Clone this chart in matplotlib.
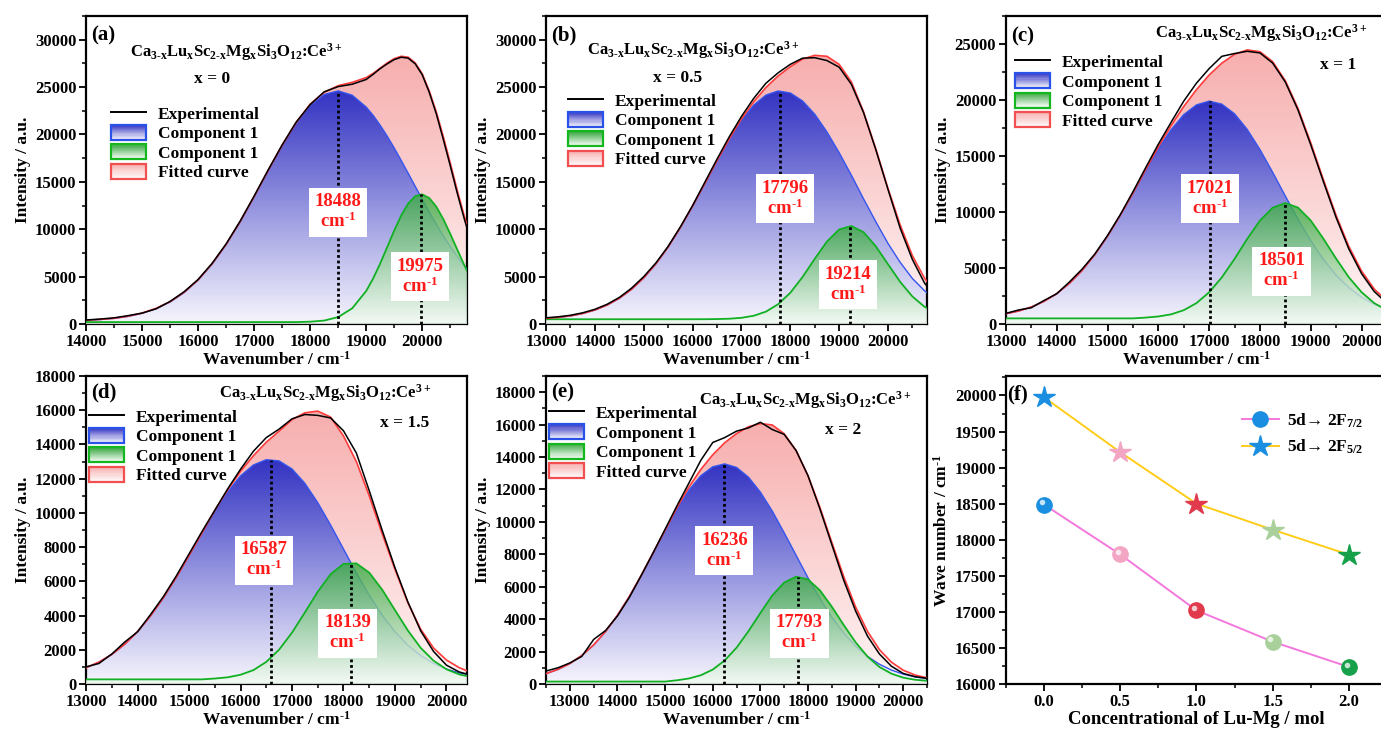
import numpy as np
import matplotlib
matplotlib.use("Agg")
import matplotlib.pyplot as plt
from matplotlib.patches import Rectangle, Patch
from matplotlib.legend_handler import HandlerBase
from matplotlib.lines import Line2D
from matplotlib.ticker import MultipleLocator, FormatStrFormatter
from matplotlib.colors import to_rgb
from matplotlib.transforms import offset_copy

plt.rcParams.update({
    "font.family": ["Liberation Serif", "DejaVu Serif"],
    "font.weight": "bold",
    "axes.labelweight": "bold",
    "mathtext.fontset": "custom",
    "mathtext.rm": "Liberation Serif:bold",
    "mathtext.it": "Liberation Serif:italic:bold",
    "mathtext.bf": "Liberation Serif:bold",
    "mathtext.default": "rm",
    "axes.linewidth": 1.6,
})

# ---------------- data ----------------
conc = [0.0, 0.5, 1.0, 1.5, 2.0]
f72 = [18488, 17796, 17021, 16587, 16236]   # 5d -> 2F7/2
f52 = [19975, 19214, 18501, 18139, 17793]   # 5d -> 2F5/2
x_labels = ["x = 0", "x = 0.5", "x = 1", "x = 1.5", "x = 2"]

# panel (a): 250 step up to 18750, 125 step above
wn_a = list(range(14000, 19000, 250)) + list(range(19000, 21001, 125))
exp_a = [420, 520, 650, 880, 1150, 1600, 2380, 3400, 4700, 6400, 8450, 10850, 13500, 16250,
         18900, 21300, 23150, 24500, 25050, 25300,
         25800, 26350, 26950, 27450, 27900, 28150, 28050, 27450, 26300, 24450, 22200, 19500,
         16700, 13800, 11100, 8600, 6500]
comp1_a = [390, 465, 590, 800, 1120, 1615, 2320, 3310, 4630, 6320, 8385, 10780, 13420, 16160,
           18810, 21180, 23040, 24220, 24600, 24140,
           22890, 22010, 20970, 19820, 18570, 17250, 15900, 14520, 13160, 11810, 10530, 9320,
           8170, 7110, 6140, 5270, 4500]
comp2_a = [200] * 16 + [240, 360, 730, 1650,
                        3480, 4810, 6380, 8110, 9850, 11450, 12710, 13490, 13680, 13290, 12390,
                        11080, 9510, 7850, 6220, 4740, 3490]
fit_a = [400, 480, 600, 820, 1150, 1650, 2350, 3350, 4650, 6350, 8400, 10800, 13450, 16200,
         18850, 21250, 23200, 24450, 25150, 25500,
         26000, 26450, 27000, 27550, 28000, 28250, 28150, 27550, 26400, 24600, 22400, 19800,
         17000, 14100, 11400, 8900, 6800]

wn_b = list(range(13000, 21001, 250))
exp_b = [650, 760, 920, 1180, 1550, 2080, 2800, 3780, 5000, 6450, 8200, 10250, 12500, 14950,
         17400, 19750, 21900, 23800, 25400, 26500, 27400, 28050, 28100, 27800, 27100, 25300,
         22300, 18400, 14200, 10100, 6800, 4300, 2700]
comp1_b = [570, 680, 850, 1100, 1470, 1990, 2710, 3650, 4860, 6350, 8130, 10180, 12440, 14820,
           17220, 19490, 21490, 23090, 24150, 24590, 24380, 23540, 22140, 20270, 18080, 15710,
           13200, 10800, 8500, 6500, 4800, 3500, 2500]
comp2_b = [500] * 13 + [505, 520, 555, 650, 865, 1300, 2080, 3290, 4950, 6870, 8700, 9970, 10340,
                        9690, 8200, 6310, 4440, 2900, 1810, 1150]
fit_b = [600, 700, 860, 1110, 1480, 2000, 2720, 3660, 4870, 6360, 8130, 10180, 12440, 14830,
         17240, 19540, 21640, 23450, 24950, 26170, 27150, 27950, 28350, 28250, 27400, 25550,
         22390, 18500, 14310, 10440, 7200, 4810, 3150]

wn_c = list(range(13000, 21001, 250))
exp_c = [950, 1250, 1450, 2100, 2700, 3750, 4900, 6250, 7900, 9750, 11800, 13950, 16050, 18000,
         19900, 21500, 22800, 23900, 24150, 24350, 24200, 23300, 21600, 19100, 16000, 12700,
         9500, 6700, 4500, 2900, 1850, 1250, 900]
comp1_c = [915, 1160, 1520, 2020, 2710, 3630, 4780, 6190, 7840, 9700, 11690, 13720, 15640, 17340,
           18690, 19560, 19900, 19630, 18770, 17370, 15580, 13550, 11420, 9350, 7440, 5770,
           4360, 3250, 2390, 1760, 1310, 1000, 800]
comp2_c = [500] * 11 + [570, 670, 860, 1230, 1860, 2830, 4160, 5810, 7600, 9230, 10380, 10800,
                        10390, 9240, 7610, 5830, 4170, 2840, 1860, 1230, 860, 670]
fit_c = [915, 1160, 1520, 2020, 2710, 3630, 4780, 6190, 7840, 9700, 11690, 13790, 15810, 17700,
         19420, 20920, 22230, 23290, 24080, 24470, 24310, 23430, 21720, 19240, 16180, 12880,
         9690, 6920, 4730, 3120, 2040, 1360, 970]

wn_d = list(range(13000, 20501, 250))
exp_d = [1000, 1200, 1750, 2450, 3050, 4050, 5100, 6300, 7600, 8900, 10150, 11400, 12550, 13600,
         14400, 14900, 15500, 15750, 15700, 15550, 14800, 13500, 11300, 9000, 6800, 4800, 3100,
         1900, 1100, 700, 500]
comp1_d = [950, 1280, 1730, 2320, 3060, 3970, 5030, 6220, 7510, 8820, 10090, 11220, 12160, 12800,
           13110, 13040, 12570, 11730, 10600, 9290, 7890, 6490, 5190, 4030, 3060, 2270, 1660,
           1200, 870, 650, 500]
comp2_d = [270] * 10 + [320, 390, 540, 810, 1290, 2010, 3000, 4180, 5390, 6420, 7020, 7050, 6510,
                        5520, 4320, 3130, 2110, 1360, 860, 560, 400]
fit_d = [950, 1280, 1730, 2320, 3060, 3970, 5030, 6220, 7510, 8820, 10140, 11340, 12430, 13340,
         14130, 14780, 15450, 15850, 15950, 15600, 14500, 13000, 11000, 8800, 6700, 4750, 3200,
         2100, 1400, 950, 650]

wn_e = list(range(12500, 20501, 250))
exp_e = [800, 1000, 1300, 1700, 2750, 3300, 4200, 5350, 6700, 8100, 9550, 11000, 12400, 13800,
         14900, 15200, 15600, 15800, 16150, 15700, 15400, 14400, 12850, 10800, 8600, 6400, 4500,
         2950, 1850, 1100, 650, 450, 350]
comp1_e = [640, 900, 1260, 1760, 2410, 3240, 4240, 5400, 6710, 8100, 9490, 10810, 11960, 12850,
           13400, 13580, 13360, 12760, 11840, 10670, 9330, 7940, 6550, 5270, 4120, 3140, 2330,
           1700, 1220, 860, 610, 440, 330]
comp2_e = [150] * 11 + [230, 340, 540, 890, 1450, 2240, 3260, 4380, 5460, 6260, 6620, 6450, 5780,
                        4770, 3640, 2570, 1690, 1050, 640, 390, 260, 200]
fit_e = [640, 900, 1260, 1760, 2410, 3240, 4240, 5400, 6710, 8100, 9490, 10890, 12150, 13240,
         14140, 14880, 15450, 15870, 16070, 15980, 15440, 14410, 12850, 10900, 8740, 6630, 4750,
         3240, 2120, 1350, 850, 550, 380]

point_colors = ["#1a8ee0", "#f2a6c4", "#e03a4c", "#a9d09a", "#17a04a"]

# ---------------- styles / layout ----------------
BLUE_TOP, BLUE_BOT = "#3232c2", "#f7f6fd"
GREEN_TOP, GREEN_BOT = "#3caa44", "#f4fbf4"
PINK_TOP, PINK_BOT = "#f7aeae", "#fff6f6"
HY = "\u2010"   # short hyphen used in sub/superscripts

W, H = 0.2759, 0.4213
ROW_TOP, ROW_BOT = 0.5568, 0.0643
COLS = [0.0623, 0.3954, 0.7284]


class GradHandler(HandlerBase):
    def __init__(self, top, bottom, edge):
        super().__init__()
        self.top = np.array(to_rgb(top))
        self.bottom = np.array(to_rgb(bottom))
        self.edge = edge

    def create_artists(self, legend, orig_handle, xdescent, ydescent, width, height,
                       fontsize, trans):
        arts = []
        n = 14
        for i in range(n):
            f = (i + 0.5) / n
            c = self.bottom + (self.top - self.bottom) * f
            arts.append(Rectangle((-xdescent, -ydescent + height * i / n), width, height / n + 0.3,
                                  facecolor=c, edgecolor="none", transform=trans))
        arts.append(Rectangle((-xdescent, -ydescent), width, height, facecolor="none",
                              edgecolor=self.edge, lw=1.6, transform=trans))
        return arts


def gradient_fill(ax, x, y, top, bottom, z, alpha=1.0):
    poly = ax.fill_between(x, 0, y, facecolor="none", edgecolor="none")
    t = np.array(to_rgb(top))
    b = np.array(to_rgb(bottom))
    f = np.linspace(0, 1, 256)[:, None]
    rgb = b + (t - b) * f
    img = np.concatenate([rgb, np.full((256, 1), alpha)], axis=1)[:, None, :]
    im = ax.imshow(img, extent=[x[0], x[-1], 0, max(y)], origin="lower", aspect="auto",
                   zorder=z, interpolation="bilinear")
    im.set_clip_path(poly.get_paths()[0], transform=ax.transData)


def style_axis(ax, xmaj, xmin, ymaj, ymin):
    ax.xaxis.set_major_locator(MultipleLocator(xmaj))
    ax.xaxis.set_minor_locator(MultipleLocator(xmin))
    ax.yaxis.set_major_locator(MultipleLocator(ymaj))
    ax.yaxis.set_minor_locator(MultipleLocator(ymin))
    ax.tick_params(which="both", direction="out", top=False, right=False, labelsize=12, pad=2)
    ax.tick_params(which="major", length=5, width=1.3)
    ax.tick_params(which="minor", length=3, width=1.1)


fig = plt.figure(figsize=(13.81, 7.31), dpi=100)

spectra = [
    dict(pos=(COLS[0], ROW_TOP), wn=wn_a, exp=exp_a, c1=comp1_a, c2=comp2_a, fit=fit_a,
         xlim=(14000, 20800), ylim=(0, 32500), ymaj=5000, ymin=2500, tag="(a)", tagy=0.938,
         form=(0.394, 0.883), xl=(0.331, 0.795), leg=(0.066, 0.71),
         lab1=(18495, 11800), lab2=(19960, 5000)),
    dict(pos=(COLS[1], ROW_TOP), wn=wn_b, exp=exp_b, c1=comp1_b, c2=comp2_b, fit=fit_b,
         xlim=(13000, 20800), ylim=(0, 32500), ymaj=5000, ymin=2500, tag="(b)", tagy=0.938,
         form=(0.386, 0.89), xl=(0.344, 0.80), leg=(0.058, 0.752),
         lab1=(17890, 13200), lab2=(19175, 4150)),
    dict(pos=(COLS[2], ROW_TOP), wn=wn_c, exp=exp_c, c1=comp1_c, c2=comp2_c, fit=fit_c,
         xlim=(13000, 20500), ylim=(0, 27500), ymaj=5000, ymin=2500, tag="(c)", tagy=0.935,
         form=(0.67, 0.945), xl=(0.871, 0.84), leg=(0.024, 0.878),
         lab1=(17022, 11200), lab2=(18425, 4700)),
    dict(pos=(COLS[0], ROW_BOT), wn=wn_d, exp=exp_d, c1=comp1_d, c2=comp2_d, fit=fit_d,
         xlim=(13000, 20400), ylim=(0, 18000), ymaj=2000, ymin=1000, tag="(d)", tagy=0.945,
         form=(0.627, 0.945), xl=(0.837, 0.847), leg=(0.008, 0.895),
         lab1=(16461, 7230), lab2=(18078, 2960)),
    dict(pos=(COLS[1], ROW_BOT), wn=wn_e, exp=exp_e, c1=comp1_e, c2=comp2_e, fit=fit_e,
         xlim=(12500, 20500), ylim=(0, 19000), ymaj=2000, ymin=1000, tag="(e)", tagy=0.945,
         form=(0.68, 0.922), xl=(0.78, 0.825), leg=(0.008, 0.907),
         lab1=(16245, 8230), lab2=(17820, 3130)),
]

formula = ("Ca$_{3" + HY + "x}$Lu$_x$Sc$_{2" + HY + "x}$Mg$_x$Si$_3$O$_{12}$:Ce$^{3+}$")
cm1 = "cm$^{" + HY + "1}$"

for i, p in enumerate(spectra):
    ax = fig.add_axes([p["pos"][0], p["pos"][1], W, H])
    wn = p["wn"]
    gradient_fill(ax, wn, p["fit"], PINK_TOP, PINK_BOT, z=1)
    gradient_fill(ax, wn, p["c1"], BLUE_TOP, BLUE_BOT, z=2)
    ax.plot(wn, p["c1"], color="#3556ee", lw=1.0, zorder=3)
    gradient_fill(ax, wn, p["c2"], GREEN_TOP, GREEN_BOT, z=4, alpha=0.82)
    ax.plot(wn, p["c2"], color="#12b024", lw=1.3, zorder=5)
    ax.plot(wn, p["fit"], color="#ff3b3b", lw=1.2, zorder=6)
    ax.plot(wn, p["exp"], color="black", lw=1.1, zorder=7)

    ax.vlines(f72[i], 0, max(p["c1"]), colors="black", linestyles=(0, (1, 1)), lw=2, zorder=8)
    ax.vlines(f52[i], 0, max(p["c2"]), colors="black", linestyles=(0, (1, 1)), lw=2, zorder=8)
    for val, xy in ((f72[i], p["lab1"]), (f52[i], p["lab2"])):
        ax.text(xy[0], xy[1], f"{val}\n" + cm1, color="#ff1a1a", fontsize=13.5,
                ha="center", va="center", zorder=9, linespacing=1.1,
                bbox=dict(boxstyle="square,pad=0.3", facecolor="white", edgecolor="none"))

    ax.set_xlim(*p["xlim"])
    ax.set_ylim(*p["ylim"])
    style_axis(ax, 1000, 500, p["ymaj"], p["ymin"])
    ax.set_xlabel("Wavenumber / " + cm1, fontsize=12.5, labelpad=1)
    ax.set_ylabel("Intensity / a.u.", fontsize=12.5, labelpad=3)

    ax.text(0.014, p["tagy"], p["tag"], transform=ax.transAxes, fontsize=15,
            ha="left", va="center", zorder=10)
    ax.text(p["form"][0], p["form"][1], formula, transform=ax.transAxes, fontsize=12,
            ha="center", va="center", zorder=10)
    ax.text(p["xl"][0], p["xl"][1], x_labels[i], transform=ax.transAxes, fontsize=12.5,
            ha="center", va="center", zorder=10)

    h_exp = Line2D([], [], color="black", lw=1.4)
    h_b, h_g, h_r = Patch(), Patch(), Patch()
    ax.legend([h_exp, h_b, h_g, h_r],
              ["Experimental", "Component 1", "Component 1", "Fitted curve"],
              handler_map={h_b: GradHandler(BLUE_TOP, "#ffffff", "#2a52e8"),
                           h_g: GradHandler(GREEN_TOP, "#ffffff", "#14b81e"),
                           h_r: GradHandler(PINK_TOP, "#ffffff", "#f25050")},
              loc="upper left", bbox_to_anchor=p["leg"], frameon=False, fontsize=12.5,
              borderpad=0, borderaxespad=0, handlelength=2.0, handleheight=0.95,
              labelspacing=0.12, handletextpad=0.7).set_zorder(11)

# ---------------- panel (f) ----------------
axf = fig.add_axes([COLS[2], ROW_BOT, W, H])
axf.plot(conc, f72, color="#f478dc", lw=1.4, zorder=2)
axf.plot(conc, f52, color="#ffcc1a", lw=1.4, zorder=2)
hl = offset_copy(axf.transData, fig=fig, x=-2.2, y=2.2, units="dots")
for xv, yv, c in zip(conc, f72, point_colors):
    axf.plot(xv, yv, marker="o", ms=11, color=c, mec=c, zorder=3)
    axf.plot(xv, yv, marker="o", ms=4, color="white", alpha=0.75, mec="none", zorder=4,
             transform=hl)
for xv, yv, c in zip(conc, f52, point_colors):
    axf.plot(xv, yv, marker="*", ms=16, color=c, mec=c, zorder=3)

axf.set_xlim(-0.25, 2.25)
axf.set_ylim(16000, 20270)
style_axis(axf, 0.5, 0.25, 500, 250)
axf.xaxis.set_major_formatter(FormatStrFormatter("%.1f"))
axf.set_xlabel("Concentrational of Lu-Mg / mol", fontsize=13.5, labelpad=1)
axf.set_ylabel("Wave number / " + cm1, fontsize=12.5, labelpad=3)
axf.text(0.003, 0.94, "(f)", transform=axf.transAxes, fontsize=15, ha="left", va="center")

leg_h = [Line2D([], [], color="#f478dc", lw=1.4, marker="o", ms=11, mfc=point_colors[0],
                mec=point_colors[0]),
         Line2D([], [], color="#ffcc1a", lw=1.4, marker="*", ms=16, mfc=point_colors[0],
                mec=point_colors[0])]
axf.legend(leg_h, ["5d\u2192 2F$_{7/2}$", "5d\u2192 2F$_{5/2}$"], loc="upper left",
           bbox_to_anchor=(0.62, 0.885), frameon=False, fontsize=12.5, borderpad=0,
           borderaxespad=0, handlelength=2.1, labelspacing=0.45, handletextpad=0.5)

fig.savefig("out.png", dpi=100)
